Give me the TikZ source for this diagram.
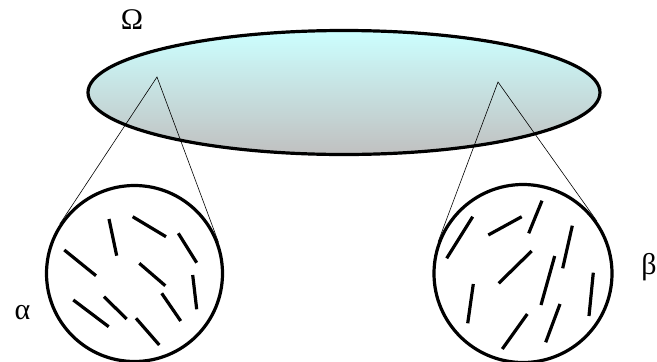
\documentclass[tikz,border=0pt]{standalone}
\usepackage{fontspec}
\setmainfont{Liberation Serif}
\usetikzlibrary{shapes.geometric,calc}
\begin{document}
\begin{tikzpicture}[x=1pt,y=-1pt,
  cell/.style={circle,draw,line width=3.2pt,inner sep=0pt},
  stick/.style={line width=3.2pt},
  ray/.style={line width=0.6pt},
  lbl/.style={inner sep=0pt,font=\fontsize{30}{34}\selectfont}]
\useasboundingbox (0,0) rectangle (657,362);
\node[ellipse,draw,line width=3.2pt,inner sep=0pt,minimum width=512pt,minimum height=124pt,
  top color={rgb,255:red,204;green,255;blue,255},bottom color={rgb,255:red,192;green,192;blue,192}]
  (omega) at (344,92.5) {};
\node[lbl] (lo) at (132,20) {Ω};
\coordinate (a1) at (157,77);
\coordinate (a2) at (498,82);
\node[cell,minimum size=176pt] (c1) at (134.5,273.5) {};
\node[cell,minimum size=178pt] (c2) at (523,273.5) {};
\node[lbl] (la) at (22.5,313) {α};
\node[lbl] (lb) at (649,267) {β};
\draw[ray] (tangent cs:node=c1,point={(a1)},solution=1) -- (a1) -- (tangent cs:node=c1,point={(a1)},solution=2);
\draw[ray] (tangent cs:node=c2,point={(a2)},solution=1) -- (a2) -- (tangent cs:node=c2,point={(a2)},solution=2);
% sticks left
\foreach \p/\q in {{(109,219)}/{(116.7,255.7)},{(132.7,216.7)}/{(166,236.7)},{(178.3,233.3)}/{(196.7,262.7)},
  {(64.3,250)}/{(96,275.7)},{(139.3,263.3)}/{(165.3,285.7)},{(192.7,275)}/{(196.7,309.3)},
  {(73.3,300)}/{(108.7,326.7)},{(104,296.7)}/{(126.7,319)},{(161.7,293.3)}/{(180.7,321)},
  {(136,318.3)}/{(159.3,345)}}
  \draw[stick] \p -- \q;
% sticks right
\foreach \p/\q in {{(472.7,216.7)}/{(446.7,258.3)},{(488.3,235)}/{(521.7,216.7)},{(542,200.7)}/{(528.7,233.3)},
  {(572.3,225.7)}/{(562.7,268.3)},{(531.7,251)}/{(498.7,283.3)},{(554.7,256)}/{(541,305)},
  {(593.3,272.7)}/{(589,316)},{(473.3,284)}/{(467.7,323.3)},{(527.3,314)}/{(502.3,349)},
  {(560,304)}/{(545.7,342.3)}}
  \draw[stick] \p -- \q;
\end{tikzpicture}
\end{document}
